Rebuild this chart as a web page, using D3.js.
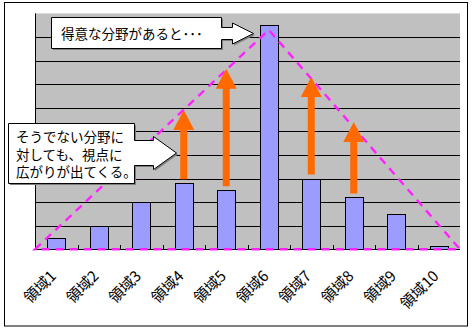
<!DOCTYPE html>
<html>
<head>
<meta charset="utf-8">
<script src="https://cdn.jsdelivr.net/npm/d3@7"></script>
<style>
  html, body { margin: 0; padding: 0; background: #fff; }
  svg { display: block; }
  text { font-family: "Noto Sans CJK JP", "Noto Sans", sans-serif; }
  text.note { font-family: "Liberation Sans", "Noto Sans CJK JP", sans-serif; }
</style>
</head>
<body>
<script>
// Categories and bar values
const categories = ["領域1", "領域2", "領域3", "領域4", "領域5", "領域6", "領域7", "領域8", "領域9", "領域10"];
const values = [0.5, 1.0, 2.0, 2.8, 2.5, 9.5, 3.0, 2.2, 1.5, 0.15];

// Value axis gridlines
const yTicks = [1, 2, 3, 4, 5, 6, 7, 8, 9];

// Dashed outline: from the left edge, up to the peak, down to the right edge
const outlineKeys = ["start", "領域6", "end"];
const outlineValues = [0, 9.3, 0];

// Upward arrows: which categories, and the value each arrow reaches
const arrowCategories = ["領域4", "領域5", "領域7", "領域8"];
const arrowTargets = [5.9, 7.65, 7.3, 5.4];

// Callout texts
const calloutTop = ["得意な分野があると･･･"];
const calloutLeft = ["そうでない分野に", "対しても、視点に", "広がりが出てくる。"];

const W = 472, H = 332;
const plot = { left: 35, right: 460, top: 13.4, bottom: 249.3 };

const svg = d3.select("body").append("svg")
  .attr("width", W).attr("height", H);

// dithered grey fill for the plot area
const defs = svg.append("defs");
const pat = defs.append("pattern").attr("id", "dither")
  .attr("width", 2).attr("height", 2).attr("patternUnits", "userSpaceOnUse");
pat.append("rect").attr("width", 2).attr("height", 2).attr("fill", "#c5bdc5");
pat.append("rect").attr("x", 1).attr("y", 0).attr("width", 1).attr("height", 1).attr("fill", "#bbc3bb");
pat.append("rect").attr("x", 0).attr("y", 1).attr("width", 1).attr("height", 1).attr("fill", "#bbc3bb");

// outer frame
svg.append("rect").attr("x", 4.5).attr("y", 2.5).attr("width", 463).attr("height", 323.5)
  .attr("fill", "#fff").attr("stroke", "#000").attr("stroke-width", 1);

const x = d3.scaleBand().domain(categories).range([plot.left, plot.right]).paddingInner(0.57).paddingOuter(0.285);
const xb = d3.scaleBand().domain(categories).range([plot.left, plot.right]);
const y = d3.scaleLinear().domain([0, 10]).range([plot.bottom, plot.top]);

// plot background
svg.append("rect").attr("x", plot.left).attr("y", plot.top)
  .attr("width", plot.right - plot.left).attr("height", plot.bottom - plot.top)
  .attr("fill", "url(#dither)");

// gridlines
svg.append("g").selectAll("line").data(yTicks).join("line")
  .attr("x1", plot.left).attr("x2", plot.right)
  .attr("y1", d => Math.round(y(d)) + 0.5).attr("y2", d => Math.round(y(d)) + 0.5)
  .attr("stroke", "#000").attr("stroke-width", 1);

// bars
svg.append("g").selectAll("rect").data(values).join("rect")
  .attr("x", (d, i) => Math.round(x(categories[i])) + 0.5)
  .attr("y", d => Math.round(y(d)) + 0.5)
  .attr("width", Math.round(x.bandwidth()))
  .attr("height", d => Math.round(plot.bottom) - Math.round(y(d)))
  .attr("fill", "#9c9cff").attr("stroke", "#000").attr("stroke-width", 1);

// value axis line
svg.append("line").attr("x1", plot.left + 0.5).attr("x2", plot.left + 0.5)
  .attr("y1", plot.top).attr("y2", plot.bottom)
  .attr("stroke", "#000");

// category axis with inside ticks at band boundaries
const xAxis = d3.axisBottom(xb).tickSize(0).tickFormat(() => "");
const axisG = svg.append("g").attr("transform", `translate(0,${Math.round(plot.bottom) + 0.5})`).call(xAxis);
axisG.select(".domain").attr("d", `M${plot.left},0H${plot.right}`).attr("stroke", "#000");
svg.append("g").selectAll("line").data(categories.slice(1)).join("line")
  .attr("x1", d => Math.round(xb(d)) + 0.5).attr("x2", d => Math.round(xb(d)) + 0.5)
  .attr("y1", Math.round(plot.bottom) - 4).attr("y2", Math.round(plot.bottom))
  .attr("stroke", "#000");

// category labels, rotated
svg.append("g").selectAll("text").data(categories).join("text")
  .attr("transform", d => `translate(${xb(d) + xb.bandwidth() / 2 + 1},277) rotate(-45)`)
  .attr("text-anchor", "end")
  .attr("font-size", 15)
  .attr("fill", "#000")
  .text(d => d);

// dashed outline
const outlineX = k => k === "start" ? plot.left : k === "end" ? plot.right : xb(k) + xb.bandwidth() / 2;
const outlinePts = outlineKeys.map((k, i) => [outlineX(k), y(outlineValues[i])]);
svg.append("path")
  .attr("d", d3.line()(outlinePts) + "Z")
  .attr("fill", "none").attr("stroke", "#ff22ff").attr("stroke-width", 2.4)
  .attr("stroke-dasharray", "8,6");

// upward arrows from each bar top to its target
const shaftW = 7, headW = 21, headL = 20, gap = 4;
svg.append("g").selectAll("path").data(arrowCategories).join("path")
  .attr("d", (c, i) => {
    const cx = xb(c) + xb.bandwidth() / 2;
    const from = y(values[categories.indexOf(c)]) - gap;
    const tip = y(arrowTargets[i]);
    const hb = tip + headL;
    return `M${cx - shaftW / 2},${from}V${hb}H${cx - headW / 2}L${cx},${tip}L${cx + headW / 2},${hb}H${cx + shaftW / 2}V${from}Z`;
  })
  .attr("fill", "#ff6a00");

// callouts with right-pointing arrows; multi-line text goes in one text element
function callout(box, shaft, head, tipX, lines, textX, baselines) {
  const cy = shaft.cy;
  const d = `M${box.x0},${box.y0}H${box.x1}V${cy - shaft.h}H${head.x}V${cy - head.h}L${tipX},${cy}` +
    `L${head.x},${cy + head.h}V${cy + shaft.h}H${box.x1}V${box.y1}H${box.x0}Z`;
  const g = svg.append("g");
  g.append("path").attr("d", d).attr("transform", "translate(1.5,1.5)")
    .attr("fill", "#7f7f7f");
  g.append("path").attr("d", d).attr("fill", "#fff").attr("stroke", "#000").attr("stroke-width", 1);
  g.append("text").attr("class", "note")
    .attr("font-size", 13.5).attr("fill", "#000")
    .selectAll("tspan").data(lines).join("tspan")
    .attr("x", textX).attr("y", (t, i) => baselines[i])
    .text(t => t);
}

callout({ x0: 51.5, y0: 17.5, x1: 221.5, y1: 48.5 },
  { cy: 33.5, h: 6 }, { x: 232.5, h: 10.5 }, 253.5,
  calloutTop, 61, [38.5]);

callout({ x0: 8.5, y0: 123.5, x1: 134.5, y1: 183.5 },
  { cy: 153, h: 12.5 }, { x: 153.5, h: 16.5 }, 176.5,
  calloutLeft, 16, [142, 159.5, 177]);
</script>
</body>
</html>
